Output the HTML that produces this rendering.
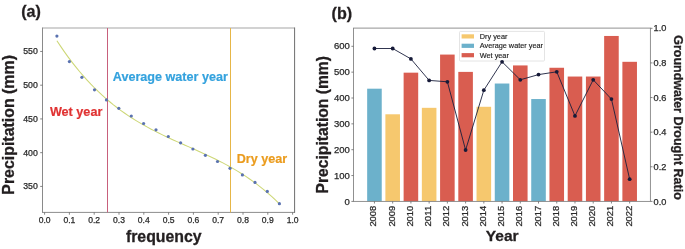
<!DOCTYPE html>
<html><head><meta charset="utf-8"><style>
html,body{margin:0;padding:0;background:#fff;}
body{width:685px;height:249px;overflow:hidden;font-family:"Liberation Sans",sans-serif;}
svg{display:block;will-change:transform;}
</style></head><body>
<svg width="685" height="249" viewBox="0 0 685 249">
<rect width="685" height="249" fill="#fff"/>
<line x1="42.5" y1="28.0" x2="294.6" y2="28.0" stroke="#a5a5a5" stroke-width="1"/>
<line x1="42.5" y1="212.4" x2="294.6" y2="212.4" stroke="#8c8c8c" stroke-width="1"/>
<line x1="42.5" y1="27.5" x2="42.5" y2="212.9" stroke="#8a8a8a" stroke-width="1"/>
<line x1="294.6" y1="27.5" x2="294.6" y2="212.9" stroke="#6e6e6e" stroke-width="1"/>
<line x1="107.5" y1="28.0" x2="107.5" y2="212.4" stroke="#c8607c" stroke-width="1"/>
<line x1="230.5" y1="28.0" x2="230.5" y2="212.4" stroke="#e6b648" stroke-width="1"/>
<polyline points="56.90,40.69 60.67,46.38 64.44,51.85 68.21,57.08 71.98,62.10 75.76,66.91 79.53,71.51 83.30,75.91 87.07,80.12 90.84,84.15 94.61,88.00 98.38,91.68 102.15,95.20 105.93,98.55 109.70,101.76 113.47,104.83 117.24,107.76 121.01,110.56 124.78,113.24 128.55,115.81 132.32,118.27 136.09,120.62 139.87,122.89 143.64,125.06 147.41,127.16 151.18,129.18 154.95,131.13 158.72,133.03 162.49,134.87 166.26,136.67 170.04,138.43 173.81,140.15 177.58,141.86 181.35,143.54 185.12,145.21 188.89,146.88 192.66,148.56 196.43,150.24 200.21,151.94 203.98,153.66 207.75,155.42 211.52,157.21 215.29,159.04 219.06,160.93 222.83,162.88 226.60,164.89 230.37,166.98 234.15,169.14 237.92,171.39 241.69,173.73 245.46,176.18 249.23,178.73 253.00,181.39 256.77,184.18 260.54,187.09 264.32,190.14 268.09,193.33 271.86,196.67 275.63,200.16 279.40,203.82" fill="none" stroke="#cdd776" stroke-width="1.05"/>
<circle cx="56.9" cy="36.1" r="1.6" fill="#5a72b0"/>
<circle cx="69.4" cy="61.6" r="1.6" fill="#5a72b0"/>
<circle cx="81.9" cy="77.3" r="1.6" fill="#5a72b0"/>
<circle cx="94.5" cy="89.8" r="1.6" fill="#5a72b0"/>
<circle cx="106.5" cy="99.9" r="1.6" fill="#5a72b0"/>
<circle cx="118.8" cy="108.3" r="1.6" fill="#5a72b0"/>
<circle cx="131.3" cy="116" r="1.6" fill="#5a72b0"/>
<circle cx="143.6" cy="123.5" r="1.6" fill="#5a72b0"/>
<circle cx="156" cy="129.8" r="1.6" fill="#5a72b0"/>
<circle cx="168.3" cy="136.5" r="1.6" fill="#5a72b0"/>
<circle cx="180.6" cy="142.8" r="1.6" fill="#5a72b0"/>
<circle cx="192.9" cy="149" r="1.6" fill="#5a72b0"/>
<circle cx="205.4" cy="155.3" r="1.6" fill="#5a72b0"/>
<circle cx="217.5" cy="161.5" r="1.6" fill="#5a72b0"/>
<circle cx="230" cy="168.3" r="1.6" fill="#5a72b0"/>
<circle cx="242.4" cy="174.9" r="1.6" fill="#5a72b0"/>
<circle cx="255" cy="182.4" r="1.6" fill="#5a72b0"/>
<circle cx="267.3" cy="191.4" r="1.6" fill="#5a72b0"/>
<circle cx="279.4" cy="203.7" r="1.6" fill="#5a72b0"/>
<line x1="40.2" y1="186.41" x2="42.5" y2="186.41" stroke="#666" stroke-width="0.8"/>
<text x="37.80" y="189.41" font-size="8.4" text-anchor="end" fill="#2a2a2a" stroke="#2a2a2a" stroke-width="0.25" font-family="Liberation Sans, sans-serif" textLength="14.57" lengthAdjust="spacingAndGlyphs">350</text>
<line x1="40.2" y1="152.67" x2="42.5" y2="152.67" stroke="#666" stroke-width="0.8"/>
<text x="37.80" y="155.67" font-size="8.4" text-anchor="end" fill="#2a2a2a" stroke="#2a2a2a" stroke-width="0.25" font-family="Liberation Sans, sans-serif" textLength="14.57" lengthAdjust="spacingAndGlyphs">400</text>
<line x1="40.2" y1="118.93" x2="42.5" y2="118.93" stroke="#666" stroke-width="0.8"/>
<text x="37.80" y="121.93" font-size="8.4" text-anchor="end" fill="#2a2a2a" stroke="#2a2a2a" stroke-width="0.25" font-family="Liberation Sans, sans-serif" textLength="14.57" lengthAdjust="spacingAndGlyphs">450</text>
<line x1="40.2" y1="85.19" x2="42.5" y2="85.19" stroke="#666" stroke-width="0.8"/>
<text x="37.80" y="88.19" font-size="8.4" text-anchor="end" fill="#2a2a2a" stroke="#2a2a2a" stroke-width="0.25" font-family="Liberation Sans, sans-serif" textLength="14.57" lengthAdjust="spacingAndGlyphs">500</text>
<line x1="40.2" y1="51.45" x2="42.5" y2="51.45" stroke="#666" stroke-width="0.8"/>
<text x="37.80" y="54.45" font-size="8.4" text-anchor="end" fill="#2a2a2a" stroke="#2a2a2a" stroke-width="0.25" font-family="Liberation Sans, sans-serif" textLength="14.57" lengthAdjust="spacingAndGlyphs">550</text>
<line x1="44.60" y1="212.4" x2="44.60" y2="214.70000000000002" stroke="#666" stroke-width="0.8"/>
<text x="44.60" y="222.90" font-size="8.4" text-anchor="middle" fill="#2a2a2a" stroke="#2a2a2a" stroke-width="0.25" font-family="Liberation Sans, sans-serif" textLength="11.91" lengthAdjust="spacingAndGlyphs">0.0</text>
<line x1="69.40" y1="212.4" x2="69.40" y2="214.70000000000002" stroke="#666" stroke-width="0.8"/>
<text x="69.40" y="222.90" font-size="8.4" text-anchor="middle" fill="#2a2a2a" stroke="#2a2a2a" stroke-width="0.25" font-family="Liberation Sans, sans-serif" textLength="11.91" lengthAdjust="spacingAndGlyphs">0.1</text>
<line x1="94.20" y1="212.4" x2="94.20" y2="214.70000000000002" stroke="#666" stroke-width="0.8"/>
<text x="94.20" y="222.90" font-size="8.4" text-anchor="middle" fill="#2a2a2a" stroke="#2a2a2a" stroke-width="0.25" font-family="Liberation Sans, sans-serif" textLength="11.91" lengthAdjust="spacingAndGlyphs">0.2</text>
<line x1="119.00" y1="212.4" x2="119.00" y2="214.70000000000002" stroke="#666" stroke-width="0.8"/>
<text x="119.00" y="222.90" font-size="8.4" text-anchor="middle" fill="#2a2a2a" stroke="#2a2a2a" stroke-width="0.25" font-family="Liberation Sans, sans-serif" textLength="11.91" lengthAdjust="spacingAndGlyphs">0.3</text>
<line x1="143.80" y1="212.4" x2="143.80" y2="214.70000000000002" stroke="#666" stroke-width="0.8"/>
<text x="143.80" y="222.90" font-size="8.4" text-anchor="middle" fill="#2a2a2a" stroke="#2a2a2a" stroke-width="0.25" font-family="Liberation Sans, sans-serif" textLength="11.91" lengthAdjust="spacingAndGlyphs">0.4</text>
<line x1="168.60" y1="212.4" x2="168.60" y2="214.70000000000002" stroke="#666" stroke-width="0.8"/>
<text x="168.60" y="222.90" font-size="8.4" text-anchor="middle" fill="#2a2a2a" stroke="#2a2a2a" stroke-width="0.25" font-family="Liberation Sans, sans-serif" textLength="11.91" lengthAdjust="spacingAndGlyphs">0.5</text>
<line x1="193.40" y1="212.4" x2="193.40" y2="214.70000000000002" stroke="#666" stroke-width="0.8"/>
<text x="193.40" y="222.90" font-size="8.4" text-anchor="middle" fill="#2a2a2a" stroke="#2a2a2a" stroke-width="0.25" font-family="Liberation Sans, sans-serif" textLength="11.91" lengthAdjust="spacingAndGlyphs">0.6</text>
<line x1="218.20" y1="212.4" x2="218.20" y2="214.70000000000002" stroke="#666" stroke-width="0.8"/>
<text x="218.20" y="222.90" font-size="8.4" text-anchor="middle" fill="#2a2a2a" stroke="#2a2a2a" stroke-width="0.25" font-family="Liberation Sans, sans-serif" textLength="11.91" lengthAdjust="spacingAndGlyphs">0.7</text>
<line x1="243.00" y1="212.4" x2="243.00" y2="214.70000000000002" stroke="#666" stroke-width="0.8"/>
<text x="243.00" y="222.90" font-size="8.4" text-anchor="middle" fill="#2a2a2a" stroke="#2a2a2a" stroke-width="0.25" font-family="Liberation Sans, sans-serif" textLength="11.91" lengthAdjust="spacingAndGlyphs">0.8</text>
<line x1="267.80" y1="212.4" x2="267.80" y2="214.70000000000002" stroke="#666" stroke-width="0.8"/>
<text x="267.80" y="222.90" font-size="8.4" text-anchor="middle" fill="#2a2a2a" stroke="#2a2a2a" stroke-width="0.25" font-family="Liberation Sans, sans-serif" textLength="11.91" lengthAdjust="spacingAndGlyphs">0.9</text>
<line x1="292.60" y1="212.4" x2="292.60" y2="214.70000000000002" stroke="#666" stroke-width="0.8"/>
<text x="292.60" y="222.90" font-size="8.4" text-anchor="middle" fill="#2a2a2a" stroke="#2a2a2a" stroke-width="0.25" font-family="Liberation Sans, sans-serif" textLength="11.91" lengthAdjust="spacingAndGlyphs">1.0</text>
<text x="21.2" y="17.0" font-size="16.1" font-weight="bold" fill="#231f20" stroke="#231f20" stroke-width="0.3" font-family="Liberation Sans, sans-serif">(a)</text>
<text x="125.9" y="241.9" font-size="15.85" font-weight="bold" fill="#231f20" stroke="#231f20" stroke-width="0.3" font-family="Liberation Sans, sans-serif">frequency</text>
<text transform="translate(13.6,194.7) rotate(-90)" x="0" y="0" font-size="15.92" font-weight="bold" fill="#231f20" stroke="#231f20" stroke-width="0.3" font-family="Liberation Sans, sans-serif">Precipitation (mm)</text>
<text x="49.9" y="116.3" font-size="12.65" font-weight="bold" fill="#e03333" stroke="#e03333" stroke-width="0.2" font-family="Liberation Sans, sans-serif">Wet year</text>
<text x="112.8" y="80.6" font-size="12.6" font-weight="bold" fill="#34a2de" stroke="#34a2de" stroke-width="0.2" font-family="Liberation Sans, sans-serif">Average water year</text>
<text x="236.7" y="162.6" font-size="12.6" font-weight="bold" fill="#eb9c1e" stroke="#eb9c1e" stroke-width="0.2" font-family="Liberation Sans, sans-serif">Dry year</text>
<rect x="367.16" y="88.69" width="14.58" height="112.71" fill="#6cb1cb"/>
<rect x="385.39" y="114.29" width="14.58" height="87.11" fill="#f6c86e"/>
<rect x="403.62" y="72.67" width="14.58" height="128.73" fill="#d95d50"/>
<rect x="421.85" y="107.82" width="14.58" height="93.58" fill="#f6c86e"/>
<rect x="440.08" y="54.57" width="14.58" height="146.83" fill="#d95d50"/>
<rect x="458.31" y="71.89" width="14.58" height="129.51" fill="#d95d50"/>
<rect x="476.54" y="106.79" width="14.58" height="94.61" fill="#f6c86e"/>
<rect x="494.77" y="83.52" width="14.58" height="117.88" fill="#6cb1cb"/>
<rect x="513.00" y="65.43" width="14.58" height="135.97" fill="#d95d50"/>
<rect x="531.23" y="99.03" width="14.58" height="102.37" fill="#6cb1cb"/>
<rect x="549.46" y="67.76" width="14.58" height="133.64" fill="#d95d50"/>
<rect x="567.69" y="76.54" width="14.58" height="124.86" fill="#d95d50"/>
<rect x="585.92" y="76.54" width="14.58" height="124.86" fill="#d95d50"/>
<rect x="604.15" y="35.96" width="14.58" height="165.44" fill="#d95d50"/>
<rect x="622.38" y="61.81" width="14.58" height="139.59" fill="#d95d50"/>
<rect x="353.5" y="28.1" width="296.90" height="173.30" fill="none" stroke="#858585" stroke-width="0.9"/>
<line x1="351.4" y1="201.40" x2="353.5" y2="201.40" stroke="#666" stroke-width="0.8"/>
<text x="349.80" y="204.50" font-size="8.9" text-anchor="end" fill="#2a2a2a" stroke="#2a2a2a" stroke-width="0.25" font-family="Liberation Sans, sans-serif" textLength="5.29" lengthAdjust="spacingAndGlyphs">0</text>
<line x1="351.4" y1="175.55" x2="353.5" y2="175.55" stroke="#666" stroke-width="0.8"/>
<text x="349.80" y="178.65" font-size="8.9" text-anchor="end" fill="#2a2a2a" stroke="#2a2a2a" stroke-width="0.25" font-family="Liberation Sans, sans-serif" textLength="15.88" lengthAdjust="spacingAndGlyphs">100</text>
<line x1="351.4" y1="149.70" x2="353.5" y2="149.70" stroke="#666" stroke-width="0.8"/>
<text x="349.80" y="152.80" font-size="8.9" text-anchor="end" fill="#2a2a2a" stroke="#2a2a2a" stroke-width="0.25" font-family="Liberation Sans, sans-serif" textLength="15.88" lengthAdjust="spacingAndGlyphs">200</text>
<line x1="351.4" y1="123.85" x2="353.5" y2="123.85" stroke="#666" stroke-width="0.8"/>
<text x="349.80" y="126.95" font-size="8.9" text-anchor="end" fill="#2a2a2a" stroke="#2a2a2a" stroke-width="0.25" font-family="Liberation Sans, sans-serif" textLength="15.88" lengthAdjust="spacingAndGlyphs">300</text>
<line x1="351.4" y1="98.00" x2="353.5" y2="98.00" stroke="#666" stroke-width="0.8"/>
<text x="349.80" y="101.10" font-size="8.9" text-anchor="end" fill="#2a2a2a" stroke="#2a2a2a" stroke-width="0.25" font-family="Liberation Sans, sans-serif" textLength="15.88" lengthAdjust="spacingAndGlyphs">400</text>
<line x1="351.4" y1="72.15" x2="353.5" y2="72.15" stroke="#666" stroke-width="0.8"/>
<text x="349.80" y="75.25" font-size="8.9" text-anchor="end" fill="#2a2a2a" stroke="#2a2a2a" stroke-width="0.25" font-family="Liberation Sans, sans-serif" textLength="15.88" lengthAdjust="spacingAndGlyphs">500</text>
<line x1="351.4" y1="46.30" x2="353.5" y2="46.30" stroke="#666" stroke-width="0.8"/>
<text x="349.80" y="49.40" font-size="8.9" text-anchor="end" fill="#2a2a2a" stroke="#2a2a2a" stroke-width="0.25" font-family="Liberation Sans, sans-serif" textLength="15.88" lengthAdjust="spacingAndGlyphs">600</text>
<line x1="650.4" y1="201.40" x2="652.5" y2="201.40" stroke="#666" stroke-width="0.8"/>
<text x="653.60" y="204.50" font-size="8.6" text-anchor="start" fill="#2a2a2a" stroke="#2a2a2a" stroke-width="0.25" font-family="Liberation Sans, sans-serif" textLength="12.79" lengthAdjust="spacingAndGlyphs">0.0</text>
<line x1="650.4" y1="166.78" x2="652.5" y2="166.78" stroke="#666" stroke-width="0.8"/>
<text x="653.60" y="169.88" font-size="8.6" text-anchor="start" fill="#2a2a2a" stroke="#2a2a2a" stroke-width="0.25" font-family="Liberation Sans, sans-serif" textLength="12.79" lengthAdjust="spacingAndGlyphs">0.2</text>
<line x1="650.4" y1="132.16" x2="652.5" y2="132.16" stroke="#666" stroke-width="0.8"/>
<text x="653.60" y="135.26" font-size="8.6" text-anchor="start" fill="#2a2a2a" stroke="#2a2a2a" stroke-width="0.25" font-family="Liberation Sans, sans-serif" textLength="12.79" lengthAdjust="spacingAndGlyphs">0.4</text>
<line x1="650.4" y1="97.54" x2="652.5" y2="97.54" stroke="#666" stroke-width="0.8"/>
<text x="653.60" y="100.64" font-size="8.6" text-anchor="start" fill="#2a2a2a" stroke="#2a2a2a" stroke-width="0.25" font-family="Liberation Sans, sans-serif" textLength="12.79" lengthAdjust="spacingAndGlyphs">0.6</text>
<line x1="650.4" y1="62.92" x2="652.5" y2="62.92" stroke="#666" stroke-width="0.8"/>
<text x="653.60" y="66.02" font-size="8.6" text-anchor="start" fill="#2a2a2a" stroke="#2a2a2a" stroke-width="0.25" font-family="Liberation Sans, sans-serif" textLength="12.79" lengthAdjust="spacingAndGlyphs">0.8</text>
<line x1="650.4" y1="28.30" x2="652.5" y2="28.30" stroke="#666" stroke-width="0.8"/>
<text x="653.60" y="31.40" font-size="8.6" text-anchor="start" fill="#2a2a2a" stroke="#2a2a2a" stroke-width="0.25" font-family="Liberation Sans, sans-serif" textLength="12.79" lengthAdjust="spacingAndGlyphs">1.0</text>
<line x1="374.45" y1="201.4" x2="374.45" y2="203.5" stroke="#666" stroke-width="0.8"/>
<text x="0.00" y="0.00" font-size="8.4" text-anchor="end" fill="#2a2a2a" stroke="#2a2a2a" stroke-width="0.25" font-family="Liberation Sans, sans-serif" textLength="20.92" lengthAdjust="spacingAndGlyphs" transform="translate(376.45,205.7) rotate(-90)">2008</text>
<line x1="392.68" y1="201.4" x2="392.68" y2="203.5" stroke="#666" stroke-width="0.8"/>
<text x="0.00" y="0.00" font-size="8.4" text-anchor="end" fill="#2a2a2a" stroke="#2a2a2a" stroke-width="0.25" font-family="Liberation Sans, sans-serif" textLength="20.92" lengthAdjust="spacingAndGlyphs" transform="translate(394.68,205.7) rotate(-90)">2009</text>
<line x1="410.91" y1="201.4" x2="410.91" y2="203.5" stroke="#666" stroke-width="0.8"/>
<text x="0.00" y="0.00" font-size="8.4" text-anchor="end" fill="#2a2a2a" stroke="#2a2a2a" stroke-width="0.25" font-family="Liberation Sans, sans-serif" textLength="20.92" lengthAdjust="spacingAndGlyphs" transform="translate(412.91,205.7) rotate(-90)">2010</text>
<line x1="429.14" y1="201.4" x2="429.14" y2="203.5" stroke="#666" stroke-width="0.8"/>
<text x="0.00" y="0.00" font-size="8.4" text-anchor="end" fill="#2a2a2a" stroke="#2a2a2a" stroke-width="0.25" font-family="Liberation Sans, sans-serif" textLength="20.92" lengthAdjust="spacingAndGlyphs" transform="translate(431.14,205.7) rotate(-90)">2011</text>
<line x1="447.37" y1="201.4" x2="447.37" y2="203.5" stroke="#666" stroke-width="0.8"/>
<text x="0.00" y="0.00" font-size="8.4" text-anchor="end" fill="#2a2a2a" stroke="#2a2a2a" stroke-width="0.25" font-family="Liberation Sans, sans-serif" textLength="20.92" lengthAdjust="spacingAndGlyphs" transform="translate(449.37,205.7) rotate(-90)">2012</text>
<line x1="465.60" y1="201.4" x2="465.60" y2="203.5" stroke="#666" stroke-width="0.8"/>
<text x="0.00" y="0.00" font-size="8.4" text-anchor="end" fill="#2a2a2a" stroke="#2a2a2a" stroke-width="0.25" font-family="Liberation Sans, sans-serif" textLength="20.92" lengthAdjust="spacingAndGlyphs" transform="translate(467.60,205.7) rotate(-90)">2013</text>
<line x1="483.83" y1="201.4" x2="483.83" y2="203.5" stroke="#666" stroke-width="0.8"/>
<text x="0.00" y="0.00" font-size="8.4" text-anchor="end" fill="#2a2a2a" stroke="#2a2a2a" stroke-width="0.25" font-family="Liberation Sans, sans-serif" textLength="20.92" lengthAdjust="spacingAndGlyphs" transform="translate(485.83,205.7) rotate(-90)">2014</text>
<line x1="502.06" y1="201.4" x2="502.06" y2="203.5" stroke="#666" stroke-width="0.8"/>
<text x="0.00" y="0.00" font-size="8.4" text-anchor="end" fill="#2a2a2a" stroke="#2a2a2a" stroke-width="0.25" font-family="Liberation Sans, sans-serif" textLength="20.92" lengthAdjust="spacingAndGlyphs" transform="translate(504.06,205.7) rotate(-90)">2015</text>
<line x1="520.29" y1="201.4" x2="520.29" y2="203.5" stroke="#666" stroke-width="0.8"/>
<text x="0.00" y="0.00" font-size="8.4" text-anchor="end" fill="#2a2a2a" stroke="#2a2a2a" stroke-width="0.25" font-family="Liberation Sans, sans-serif" textLength="20.92" lengthAdjust="spacingAndGlyphs" transform="translate(522.29,205.7) rotate(-90)">2016</text>
<line x1="538.52" y1="201.4" x2="538.52" y2="203.5" stroke="#666" stroke-width="0.8"/>
<text x="0.00" y="0.00" font-size="8.4" text-anchor="end" fill="#2a2a2a" stroke="#2a2a2a" stroke-width="0.25" font-family="Liberation Sans, sans-serif" textLength="20.92" lengthAdjust="spacingAndGlyphs" transform="translate(540.52,205.7) rotate(-90)">2017</text>
<line x1="556.75" y1="201.4" x2="556.75" y2="203.5" stroke="#666" stroke-width="0.8"/>
<text x="0.00" y="0.00" font-size="8.4" text-anchor="end" fill="#2a2a2a" stroke="#2a2a2a" stroke-width="0.25" font-family="Liberation Sans, sans-serif" textLength="20.92" lengthAdjust="spacingAndGlyphs" transform="translate(558.75,205.7) rotate(-90)">2018</text>
<line x1="574.98" y1="201.4" x2="574.98" y2="203.5" stroke="#666" stroke-width="0.8"/>
<text x="0.00" y="0.00" font-size="8.4" text-anchor="end" fill="#2a2a2a" stroke="#2a2a2a" stroke-width="0.25" font-family="Liberation Sans, sans-serif" textLength="20.92" lengthAdjust="spacingAndGlyphs" transform="translate(576.98,205.7) rotate(-90)">2019</text>
<line x1="593.21" y1="201.4" x2="593.21" y2="203.5" stroke="#666" stroke-width="0.8"/>
<text x="0.00" y="0.00" font-size="8.4" text-anchor="end" fill="#2a2a2a" stroke="#2a2a2a" stroke-width="0.25" font-family="Liberation Sans, sans-serif" textLength="20.92" lengthAdjust="spacingAndGlyphs" transform="translate(595.21,205.7) rotate(-90)">2020</text>
<line x1="611.44" y1="201.4" x2="611.44" y2="203.5" stroke="#666" stroke-width="0.8"/>
<text x="0.00" y="0.00" font-size="8.4" text-anchor="end" fill="#2a2a2a" stroke="#2a2a2a" stroke-width="0.25" font-family="Liberation Sans, sans-serif" textLength="20.92" lengthAdjust="spacingAndGlyphs" transform="translate(613.44,205.7) rotate(-90)">2021</text>
<line x1="629.67" y1="201.4" x2="629.67" y2="203.5" stroke="#666" stroke-width="0.8"/>
<text x="0.00" y="0.00" font-size="8.4" text-anchor="end" fill="#2a2a2a" stroke="#2a2a2a" stroke-width="0.25" font-family="Liberation Sans, sans-serif" textLength="20.92" lengthAdjust="spacingAndGlyphs" transform="translate(631.67,205.7) rotate(-90)">2022</text>
<rect x="459.5" y="31.4" width="85" height="29.6" fill="#fff" fill-opacity="0.85" stroke="#ddd" stroke-width="0.8" rx="1"/>
<rect x="461.6" y="34.30" width="12.4" height="4.2" fill="#f6c86e"/>
<text x="479.8" y="38.90" font-size="7.3" fill="#222" stroke="#222" stroke-width="0.15" font-family="Liberation Sans, sans-serif">Dry year</text>
<rect x="461.6" y="43.70" width="12.4" height="4.2" fill="#6cb1cb"/>
<text x="479.8" y="48.30" font-size="7.3" fill="#222" stroke="#222" stroke-width="0.15" font-family="Liberation Sans, sans-serif">Average water year</text>
<rect x="461.6" y="53.10" width="12.4" height="4.2" fill="#d95d50"/>
<text x="479.8" y="57.70" font-size="7.3" fill="#222" stroke="#222" stroke-width="0.15" font-family="Liberation Sans, sans-serif">Wet year</text>
<polyline points="374.45,48.5 392.68,48.5 410.91,58.9 429.14,80.4 447.37,81.8 465.60,150 483.83,90.2 502.06,61.8 520.29,79.8 538.52,74.6 556.75,71.8 574.98,115.9 593.21,79.8 611.44,99.1 629.67,179.2" fill="none" stroke="#1a1f3c" stroke-width="0.9"/>
<circle cx="374.45" cy="48.5" r="1.9" fill="#161a38"/>
<circle cx="392.68" cy="48.5" r="1.9" fill="#161a38"/>
<circle cx="410.91" cy="58.9" r="1.9" fill="#161a38"/>
<circle cx="429.14" cy="80.4" r="1.9" fill="#161a38"/>
<circle cx="447.37" cy="81.8" r="1.9" fill="#161a38"/>
<circle cx="465.60" cy="150" r="1.9" fill="#161a38"/>
<circle cx="483.83" cy="90.2" r="1.9" fill="#161a38"/>
<circle cx="502.06" cy="61.8" r="1.9" fill="#161a38"/>
<circle cx="520.29" cy="79.8" r="1.9" fill="#161a38"/>
<circle cx="538.52" cy="74.6" r="1.9" fill="#161a38"/>
<circle cx="556.75" cy="71.8" r="1.9" fill="#161a38"/>
<circle cx="574.98" cy="115.9" r="1.9" fill="#161a38"/>
<circle cx="593.21" cy="79.8" r="1.9" fill="#161a38"/>
<circle cx="611.44" cy="99.1" r="1.9" fill="#161a38"/>
<circle cx="629.67" cy="179.2" r="1.9" fill="#161a38"/>
<text x="331.6" y="18.9" font-size="16.1" font-weight="bold" fill="#231f20" stroke="#231f20" stroke-width="0.3" font-family="Liberation Sans, sans-serif">(b)</text>
<text x="485.8" y="241.1" font-size="15.5" font-weight="bold" fill="#231f20" stroke="#231f20" stroke-width="0.3" font-family="Liberation Sans, sans-serif">Year</text>
<text transform="translate(328.1,193.4) rotate(-90)" font-size="15.65" font-weight="bold" fill="#231f20" stroke="#231f20" stroke-width="0.3" font-family="Liberation Sans, sans-serif">Precipitation (mm)</text>
<text transform="translate(673.8,35.2) rotate(90)" font-size="12.5" font-weight="bold" fill="#231f20" stroke="#231f20" stroke-width="0.3" font-family="Liberation Sans, sans-serif">Groundwater Drought Ratio</text>
</svg>
</body></html>
